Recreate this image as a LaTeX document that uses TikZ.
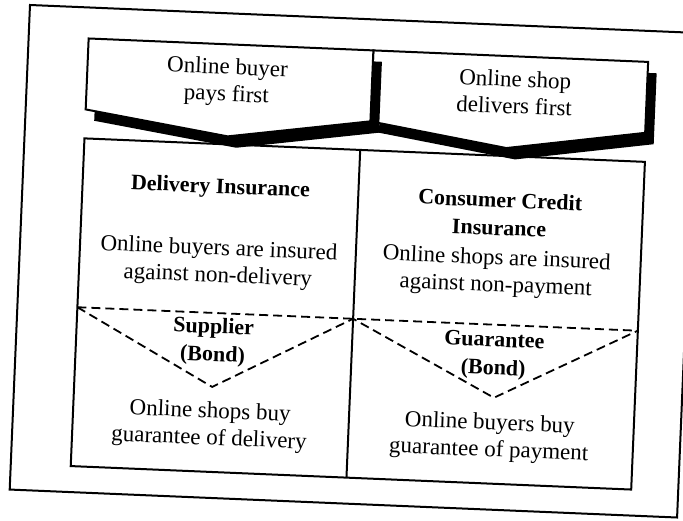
\documentclass[tikz,border=0pt]{standalone}
\usepackage{fontspec}
\setmainfont{Liberation Serif}
\usetikzlibrary{positioning}

\begin{document}
\begin{tikzpicture}[
    x=1pt, y=1pt,
    frame/.style={draw, line width=2pt},
    banner/.style={draw, line width=2pt, fill=white},
    shade/.style={fill=black},
    divide/.style={line width=1.8pt, dash pattern=on 9pt off 5pt},
    txt/.style={align=center, inner sep=0pt, font=\fontsize{23}{27}\selectfont},
    head/.style={align=center, inner sep=0pt, font=\fontsize{22}{28}\selectfont\bfseries}
  ]
  \useasboundingbox (0,0) rectangle (683,-521);

  \begin{scope}[shift={(30,-5)}, rotate=-2.4, transform shape]

  % Outer frame
  \draw[frame] (0,0) rectangle (668,-485);

  % Banners with their shadows
  \foreach \l/\r/\t in {345/620/482, 60/345/203} {
    \fill[shade, xshift=9, yshift=-11] (\l,-31) -- (\r,-31) -- (\r,-102) -- (\t,-123) -- (\l,-102) -- cycle;
    \draw[banner] (\l,-31) -- (\r,-31) -- (\r,-102) -- (\t,-123) -- (\l,-102) -- cycle;
  }
  \node[txt] (buyerfirst) at (200,-69) {Online buyer\\pays first};
  \node[txt] (shopfirst) at (488,-67) {Online shop\\delivers first};

  % Table
  \coordinate (topleft) at (60,-131);
  \coordinate (botright) at (621,-459);
  \coordinate (topmid) at (336,-131);
  \coordinate (botmid) at (336,-459);
  \draw[frame] (topleft) rectangle (botright);
  \draw[frame] (topmid) -- (botmid);

  % Left column
  \node[head] (delivery) at (198,-175) {Delivery Insurance};
  \node[txt] (delivtext) at (199,-250) {Online buyers are insured\\against non-delivery};
  \node[head] (supplier) at (197,-329) {Supplier\\(Bond)};
  \node[txt] (shopsbuy) at (197,-413) {Online shops buy\\guarantee of delivery};

  % Right column
  \node[head] (credit) at (478,-189) {Consumer Credit\\Insurance};
  \node[txt] (credittext) at (477,-248) {Online shops are insured\\against non-payment};
  \node[head] (guarantee) at (478,-331) {Guarantee\\(Bond)};
  \node[txt] (buyersbuy) at (477,-413) {Online buyers buy\\guarantee of payment};

  % Dashed split
  \coordinate (midleft) at (60,-300);
  \coordinate (midcentre) at (336,-300);
  \coordinate (midright) at (621,-300);
  \coordinate (tipleft) at (198,-374);
  \coordinate (tipright) at (480,-373);
  \draw[divide] (midleft) -- (midright);
  \draw[divide] (midleft) -- (tipleft) -- (midcentre) -- (tipright) -- (midright);

  \end{scope}
\end{tikzpicture}
\end{document}
